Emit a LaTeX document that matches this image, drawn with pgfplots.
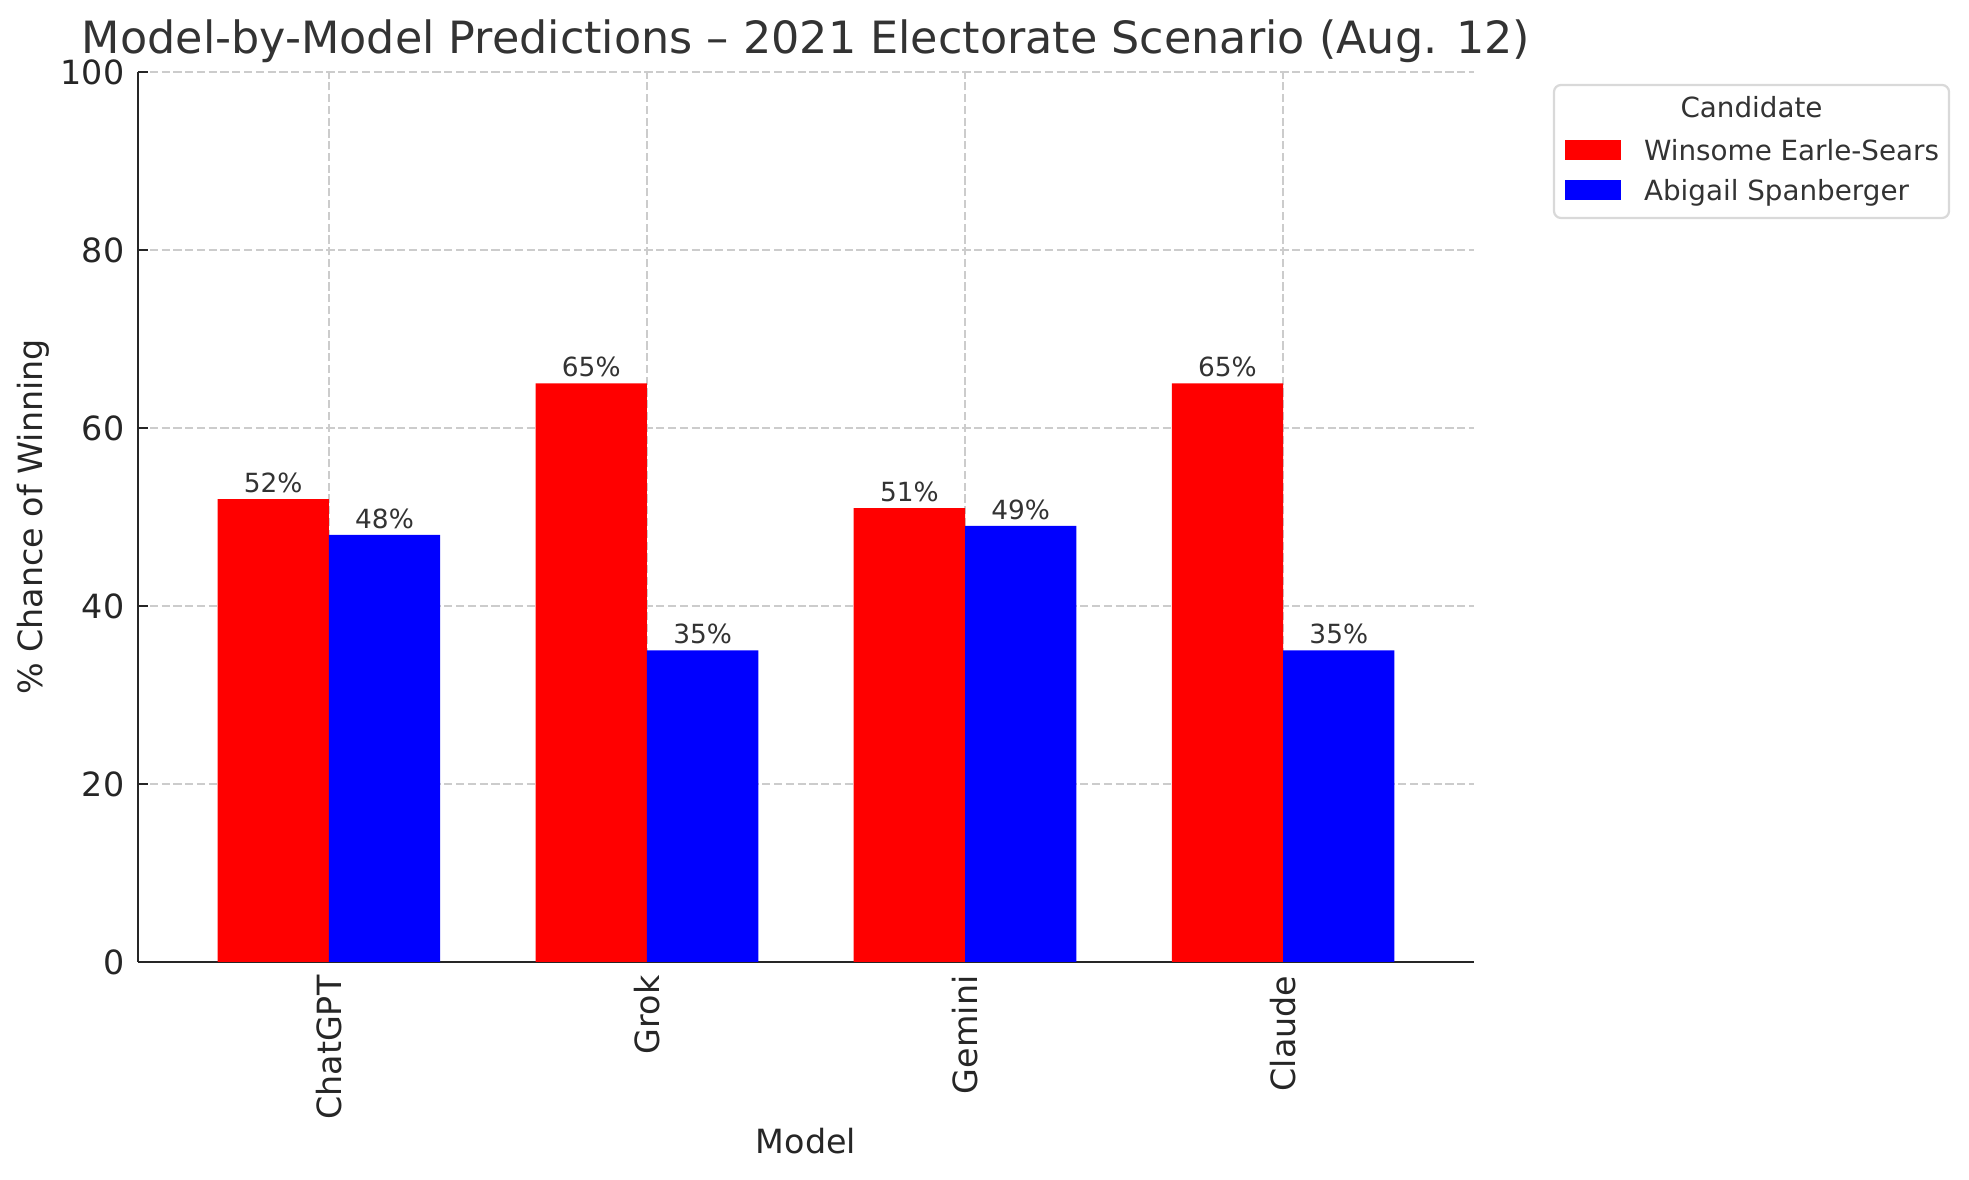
\documentclass[border=0pt]{standalone}
\usepackage{pgfplots}
\pgfplotsset{compat=1.18}
\usepackage{fontspec}
\setmainfont{DejaVu Sans}
\definecolor{txt}{HTML}{333333}
\definecolor{ax}{HTML}{262626}
\definecolor{gridc}{HTML}{CCCCCC}
\definecolor{legedge}{HTML}{D9D9D9}
\pgfplotsset{layers/gridontop/.define layer set={axis background,main,axis grid,axis ticks,axis lines,axis tick labels,axis descriptions,axis foreground}{}}

\begin{document}
\begin{tikzpicture}
\path (-49.68pt,-78.48pt) rectangle (659.16pt,346.32pt);
\draw[rounded corners=2.5pt, draw=legedge, line width=0.8pt, fill=white] (509.76pt,267.84pt) rectangle (651.96pt,315.72pt);
\node[anchor=base, font=\fontsize{10}{12}\selectfont, text=txt, inner sep=0pt] at (580.86pt,304.1pt) {Candidate};
\begin{axis}[
  at={(0pt,0pt)}, anchor=south west,
  width=480.96pt, height=320.4pt, scale only axis,
  set layers=gridontop,
  xmin=-0.6, xmax=3.6, ymin=0, ymax=100,
  xtick={0,1,2,3}, xticklabels={ChatGPT,Grok,Gemini,Claude},
  ytick={0,20,40,60,80,100},
  axis x line*=bottom, axis y line*=left,
  axis line style={color=ax, line width=0.8pt, -},
  tick align=inside,
  major tick length=3.5pt,
  tick style={color=ax, line width=0.8pt},
  grid=major,
  major grid style={color=gridc, line width=0.8pt, dash pattern=on 2.96pt off 1.28pt},
  /pgf/number format/assume math mode=true,
  tick label style={font=\fontsize{12}{14}\selectfont, text=ax},
  yticklabel style={anchor=east, inner sep=0pt, xshift=-4.7pt},
  xticklabel style={yshift=-4.7pt, rotate=90, anchor=east, inner sep=0pt},
  xlabel={Model},
  ylabel={\% Chance of Winning},
  title={Model-by-Model Predictions – 2021 Electorate Scenario (Aug. 12)},
  every axis x label/.style={at={(axis description cs:0.5,0)}, anchor=base, yshift=-68.8pt, font=\fontsize{12}{14}\selectfont, text=ax},
  every axis y label/.style={at={(axis description cs:0,0.5)}, xshift=-34.2pt, rotate=90, anchor=base, font=\fontsize{12}{14}\selectfont, text=ax},
  every axis title/.style={at={(axis description cs:0.5,1)}, anchor=base, yshift=6.5pt, font=\fontsize{16}{19}\selectfont, text=txt},
  legend style={draw=none, fill=none, at={(axis description cs:1.0681,0.9247)}, anchor=north west, inner sep=0pt, outer sep=0pt, row sep=5.4pt, column sep=8.28pt, font=\fontsize{10}{12}\selectfont, text=txt, nodes={inner sep=0pt, outer sep=0pt}},
  legend cell align=left,
  legend image code/.code={\fill[#1] (0pt,-2.9pt) rectangle (20.16pt,4.3pt);},
]
\addplot[ybar, fill=red, draw=none, bar width=0.35, bar shift=-0.175,
  nodes near coords={\pgfmathprintnumber[precision=0]{\pgfplotspointmeta}\%},
  every node near coord/.append style={anchor=base, xshift=-20.04pt, yshift=2.4pt, font=\fontsize{9.5}{11}\selectfont, text=txt, inner sep=0pt}]
  coordinates {(0,52) (1,65) (2,51) (3,65)};
\addlegendentry{Winsome Earle-Sears}
\addplot[ybar, fill=blue, draw=none, bar width=0.35, bar shift=0.175,
  nodes near coords={\pgfmathprintnumber[precision=0]{\pgfplotspointmeta}\%},
  every node near coord/.append style={anchor=base, xshift=20.04pt, yshift=2.4pt, font=\fontsize{9.5}{11}\selectfont, text=txt, inner sep=0pt}]
  coordinates {(0,48) (1,35) (2,49) (3,35)};
\addlegendentry{Abigail Spanberger}
\end{axis}
\end{tikzpicture}
\end{document}
